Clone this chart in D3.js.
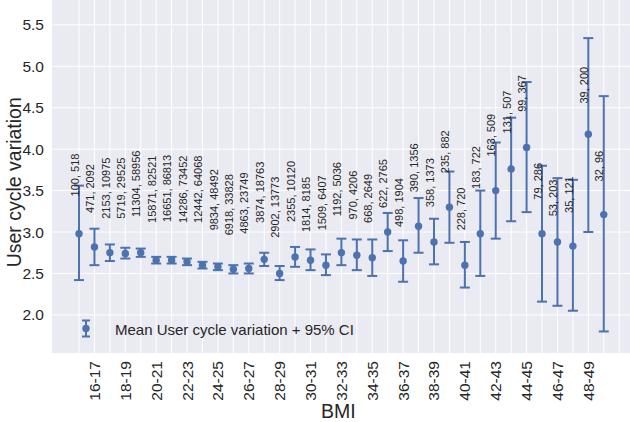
<!DOCTYPE html>
<html>
<head>
<meta charset="utf-8">
<script src="https://cdn.jsdelivr.net/npm/d3@7"></script>
<style>
  body { margin: 0; background: #fff; }
  svg { display: block; font-family: "Liberation Sans", Arial, sans-serif; }
</style>
</head>
<body>
<svg id="chart" width="630" height="422"></svg>
<script>
// BMI bins (one per 1 unit); the last one has no data
const bins = ["15-16","16-17","17-18","18-19","19-20","20-21","21-22","22-23","23-24","24-25",
  "25-26","26-27","27-28","28-29","29-30","30-31","31-32","32-33","33-34","34-35",
  "35-36","36-37","37-38","38-39","39-40","40-41","41-42","42-43","43-44","44-45",
  "45-46","46-47","47-48","48-49","49-50","50-51"];
const tickLabels = ["16-17","18-19","20-21","22-23","24-25","26-27","28-29","30-31","32-33",
  "34-35","36-37","38-39","40-41","42-43","44-45","46-47","48-49"];

const means = [2.98, 2.82, 2.75, 2.74, 2.75, 2.66, 2.66, 2.64, 2.60, 2.58, 2.55, 2.56, 2.67, 2.50, 2.70,
  2.66, 2.60, 2.75, 2.72, 2.69, 3.00, 2.65, 3.07, 2.88, 3.30, 2.60, 2.98, 3.50, 3.76, 4.02,
  2.98, 2.88, 2.83, 4.18, 3.21];
const lower = [2.42, 2.60, 2.65, 2.68, 2.70, 2.62, 2.62, 2.60, 2.56, 2.54, 2.50, 2.50, 2.59, 2.42, 2.58,
  2.54, 2.48, 2.60, 2.54, 2.47, 2.77, 2.40, 2.75, 2.61, 2.87, 2.33, 2.47, 2.92, 3.13, 3.24,
  2.16, 2.11, 2.05, 3.00, 1.80];
const upper = [3.56, 3.04, 2.85, 2.81, 2.80, 2.70, 2.70, 2.68, 2.64, 2.62, 2.60, 2.62, 2.75, 2.59, 2.82,
  2.79, 2.73, 2.92, 2.91, 2.91, 3.23, 2.90, 3.41, 3.16, 3.73, 2.88, 3.50, 4.08, 4.38, 4.81,
  3.80, 3.65, 3.63, 5.34, 4.64];

// annotation: users, cycles and the y value the text sits at
const users = [100, 471, 2153, 5719, 11304, 15871, 16651, 14286, 12442, 9834, 6918, 4863, 3874, 2902, 2355,
  1814, 1509, 1192, 970, 668, 622, 498, 390, 358, 235, 228, 183, 163, 131, 99, 79, 53, 35, 39, 32];
const cycles = [518, 2092, 10975, 29525, 58956, 82521, 86813, 73452, 64068, 48492, 33828, 23749, 18763, 13773, 10120,
  8185, 6407, 5036, 4206, 2649, 2765, 1904, 1356, 1373, 882, 720, 722, 509, 507, 367, 286, 203, 121, 200, 96];
const labelAt = [3.43, 3.23, 3.16, 3.16, 3.18, 3.11, 3.12, 3.11, 3.11, 3.02, 2.96, 2.98, 3.11, 2.93, 3.12,
  3.00, 3.02, 3.19, 3.15, 3.11, 3.29, 3.06, 3.48, 3.30, 3.71, 3.02, 3.52, 3.91, 4.19, 4.45,
  3.39, 3.19, 3.23, 4.55, 3.61];

const yTicks = [2.0, 2.5, 3.0, 3.5, 4.0, 4.5, 5.0, 5.5];

const blue = "#4C72B0", ink = "#262626";
const svg = d3.select("#chart");
const margin = {left: 52, right: 0, top: 0, bottom: 69};
const W = 630, H = 422;

const x = d3.scaleLinear().domain([-1.75, 35.7]).range([margin.left, W - margin.right]);
const y = d3.scaleLinear().domain([1.54, 5.8]).range([H - margin.bottom, margin.top]);

svg.append("rect")
  .attr("x", margin.left).attr("y", margin.top)
  .attr("width", W - margin.left - margin.right)
  .attr("height", H - margin.top - margin.bottom)
  .attr("fill", "#EAEAF2");

// grid
svg.append("g").selectAll("line")
  .data(yTicks).join("line")
    .attr("x1", margin.left).attr("x2", W - margin.right)
    .attr("y1", d => y(d)).attr("y2", d => y(d))
    .attr("stroke", "#fff").attr("stroke-width", 1);
svg.append("g").selectAll("line")
  .data(bins).join("line")
    .attr("x1", (d, i) => x(i)).attr("x2", (d, i) => x(i))
    .attr("y1", margin.top).attr("y2", H - margin.bottom)
    .attr("stroke", "#fff").attr("stroke-width", 1);

// y tick labels
svg.append("g").selectAll("text")
  .data(yTicks).join("text")
    .attr("x", 44).attr("y", d => y(d)).attr("dy", "0.36em")
    .attr("text-anchor", "end").attr("font-size", 15.5).attr("fill", ink)
    .text(d => d.toFixed(1));

// x tick labels
svg.append("g").selectAll("text")
  .data(tickLabels).join("text")
    .attr("transform", d => `translate(${x(bins.indexOf(d)) + 5.5},361) rotate(-90)`)
    .attr("text-anchor", "end").attr("font-size", 15.5).attr("fill", ink)
    .text(d => d);

// axis titles
svg.append("text")
  .attr("transform", `translate(21,${y(3.6)}) rotate(-90)`)
  .attr("text-anchor", "middle").attr("font-size", 19.5).attr("fill", ink)
  .text("User cycle variation");
svg.append("text")
  .attr("x", x(16.8)).attr("y", 418)
  .attr("text-anchor", "middle").attr("font-size", 19.5).attr("fill", ink)
  .text("BMI");

// error bars
const pts = means.map((m, i) => ({i, m, lo: lower[i], hi: upper[i], n: users[i], c: cycles[i], at: labelAt[i]}));
const g = svg.append("g").attr("stroke", blue).attr("stroke-width", 2).attr("fill", "none");
g.selectAll("line.bar").data(pts).join("line").attr("class", "bar")
  .attr("x1", d => x(d.i)).attr("x2", d => x(d.i))
  .attr("y1", d => y(d.lo)).attr("y2", d => y(d.hi));
g.selectAll("line.lo").data(pts).join("line").attr("class", "lo")
  .attr("x1", d => x(d.i) - 5).attr("x2", d => x(d.i) + 5)
  .attr("y1", d => y(d.lo)).attr("y2", d => y(d.lo));
g.selectAll("line.hi").data(pts).join("line").attr("class", "hi")
  .attr("x1", d => x(d.i) - 5).attr("x2", d => x(d.i) + 5)
  .attr("y1", d => y(d.hi)).attr("y2", d => y(d.hi));
svg.append("g").selectAll("circle").data(pts).join("circle")
  .attr("cx", d => x(d.i)).attr("cy", d => y(d.m)).attr("r", 3.7)
  .attr("fill", blue);

// count annotations
svg.append("g").selectAll("text").data(pts).join("text")
  .attr("transform", d => `translate(${x(d.i) - 0.3},${y(d.at)}) rotate(-90)`)
  .attr("font-size", 11).attr("fill", ink)
  .text(d => `${d.n}, ${d.c}`);

// legend
const lg = svg.append("g").attr("transform", "translate(86,328.5)");
lg.append("line").attr("y1", -8).attr("y2", 8).attr("stroke", blue).attr("stroke-width", 2);
lg.append("line").attr("x1", -4).attr("x2", 4).attr("y1", -8).attr("y2", -8).attr("stroke", blue).attr("stroke-width", 2);
lg.append("line").attr("x1", -4).attr("x2", 4).attr("y1", 8).attr("y2", 8).attr("stroke", blue).attr("stroke-width", 2);
lg.append("circle").attr("r", 3.7).attr("fill", blue);
lg.append("text").attr("x", 29).attr("y", 6.5).attr("font-size", 15).attr("fill", ink)
  .text("Mean User cycle variation + 95% CI");
</script>
</body>
</html>
